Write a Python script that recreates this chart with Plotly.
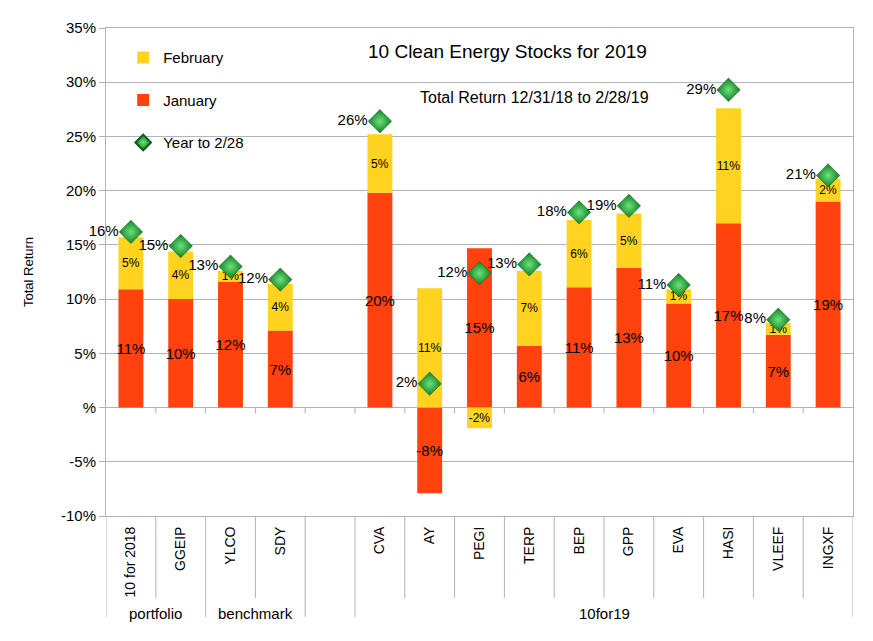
import plotly.graph_objects as go

# ---- data ----
categories = ["10 for 2018", "GGEIP", "YLCO", "SDY", "", "CVA", "AY", "PEGI",
              "TERP", "BEP", "GPP", "EVA", "HASI", "VLEEF", "INGXF"]
january = [10.9, 10.0, 11.6, 7.1, None, 19.8, -7.9, 14.7, 5.7, 11.1, 12.9, 9.6, 17.0, 6.7, 19.0]
february = [4.8, 4.4, 1.0, 4.3, None, 5.4, 11.0, -1.9, 6.9, 6.2, 5.0, 1.3, 10.6, 1.1, 2.1]
year_to_date = [16.2, 14.9, 13.0, 11.8, None, 26.4, 2.2, 12.4, 13.2, 18.0, 18.6, 11.3, 29.3, 8.1, 21.4]
group_names = ["portfolio", "benchmark", "10for19"]
group_first = [0, 2, 5]
group_last = [1, 3, 14]
y_ticks = [-10, -5, 0, 5, 10, 15, 20, 25, 30, 35]
y_tick_text = ["-10%", "-5%", "%", "5%", "10%", "15%", "20%", "25%", "30%", "35%"]

FONT = "Liberation Sans, Arial, sans-serif"
GRID = "#b3b3b3"
JAN_COLOR = "#ff420e"
FEB_COLOR = "#ffd320"

x = list(range(len(categories)))

fig = go.Figure()

fig.add_trace(go.Bar(
    x=x, y=january, name="January", marker=dict(color=JAN_COLOR, line=dict(width=0)),
    width=0.5, texttemplate="%{y:.0f}%", textposition="inside", insidetextanchor="middle",
    constraintext="none", textangle=0,
    insidetextfont=dict(family=FONT, size=15, color="#000000"),
    legendgroup="jan", legendrank=2, hoverinfo="skip",
))
fig.add_trace(go.Bar(
    x=x, y=february, name="February", marker=dict(color=FEB_COLOR, line=dict(width=0)),
    width=0.5, texttemplate="%{y:.0f}%", textposition="inside", insidetextanchor="middle",
    constraintext="none", textangle=0,
    insidetextfont=dict(family=FONT, size=12, color="#000000"),
    legendgroup="feb", legendrank=1, hoverinfo="skip",
))
fig.add_trace(go.Scatter(
    x=x, y=year_to_date, name="Year to 2/28", mode="markers+text",
    marker=dict(symbol="diamond", size=18, color="#137f27",
                gradient=dict(type="radial", color="#6be37a"),
                line=dict(color="#0b5e18", width=0.5)),
    texttemplate="%{y:.0f}%", textposition="middle left",
    textfont=dict(family=FONT, size=15, color="#000000"),
    cliponaxis=False, legendgroup="ytd", legendrank=3, hoverinfo="skip",
))

# category separators below the plot (short) and group separators (long)
group_bounds = set([g + 0.5 for g in group_last] + [g - 0.5 for g in group_first])
shapes = []
for i in range(len(categories) + 1):
    b = i - 0.5
    is_group = b in group_bounds
    shapes.append(dict(type="line", xref="x", yref="paper", x0=b, x1=b,
                       y0=0, y1=-0.207 if is_group else -0.168,
                       line=dict(color=GRID, width=1)))
    # small ticks on the zero line
    if 0 < i < len(categories):
        shapes.append(dict(type="line", xref="x", yref="y", x0=b, x1=b, y0=0, y1=-0.55,
                           line=dict(color=GRID, width=1)))

annotations = [
    dict(text="10 Clean Energy Stocks for 2019", xref="paper", yref="paper",
         x=0.537, y=0.951, xanchor="center", yanchor="middle", showarrow=False,
         font=dict(family=FONT, size=19, color="#000000")),
    dict(text="Total Return 12/31/18 to 2/28/19", xref="paper", yref="paper",
         x=0.574, y=0.857, xanchor="center", yanchor="middle", showarrow=False,
         font=dict(family=FONT, size=16, color="#000000")),
]
for name, a, b in zip(group_names, group_first, group_last):
    annotations.append(dict(text=name, xref="x", yref="paper", x=(a + b) / 2, y=-0.199,
                            showarrow=False, xanchor="center", yanchor="middle",
                            font=dict(family=FONT, size=15, color="#000000")))

fig.update_layout(
    width=873, height=641,
    margin=dict(l=106, r=20, t=28, b=125),
    paper_bgcolor="white", plot_bgcolor="white",
    barmode="relative",
    font=dict(family=FONT, color="#000000"),
    showlegend=True,
    legend=dict(x=0.023, y=0.973, xanchor="left", yanchor="top",
                traceorder="grouped", tracegroupgap=20,
                font=dict(family=FONT, size=15, color="#000000"),
                bgcolor="rgba(0,0,0,0)", itemsizing="constant"),
    shapes=shapes,
    annotations=annotations,
)
fig.update_xaxes(
    range=[-0.5, len(categories) - 0.5], tickvals=x, ticktext=categories,
    tickangle=-90, ticks="", showgrid=False, zeroline=False,
    showline=True, linecolor=GRID, linewidth=1, mirror=True,
    ticklabelstandoff=4,
    tickfont=dict(family=FONT, size=14, color="#000000"), fixedrange=True,
)
fig.update_yaxes(
    range=[-10, 35], tickvals=y_ticks, ticktext=y_tick_text,
    showgrid=True, gridcolor=GRID, gridwidth=1,
    zeroline=True, zerolinecolor=GRID, zerolinewidth=1,
    showline=True, linecolor=GRID, linewidth=1, mirror=True,
    ticks="outside", ticklen=6, tickcolor=GRID,
    tickfont=dict(family=FONT, size=15, color="#000000"),
    title=dict(text="Total Return", font=dict(family=FONT, size=13, color="#000000"), standoff=24),
    fixedrange=True,
)

fig.write_html("out.html")
